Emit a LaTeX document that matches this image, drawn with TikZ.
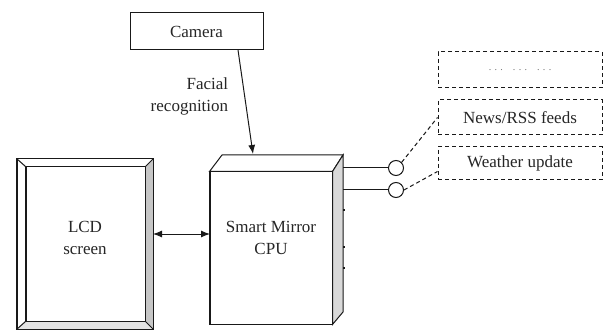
\documentclass[tikz,border=0pt]{standalone}
\usepackage{fontspec}
\setmainfont{Liberation Serif}
\usetikzlibrary{arrows.meta}
\begin{document}
\begin{tikzpicture}[x=1pt,y=-1pt,
  line width=1pt, draw=black!90,
  txt/.style={font=\fontsize{17}{22}\selectfont, text=black!85},
  solidbox/.style={draw, rectangle, inner sep=0pt},
  dashbox/.style={draw, dashed, dash pattern=on 4pt off 3pt, rectangle, inner sep=0pt, minimum width=164pt},
  port/.style={draw, circle, minimum size=15pt, inner sep=0pt},
  tip/.style={-{Latex[length=9pt,width=7pt]}},
  dtip/.style={{Latex[length=9pt,width=7pt]}-{Latex[length=9pt,width=7pt]}}]
\useasboundingbox (0,0) rectangle (610,331);
\fill[white] (0,0) rectangle (610,331);

% Camera
\node[solidbox, txt, minimum width=133pt, minimum height=37pt] (camera) at (196.5,31.5) {Camera};

% LCD screen
\node[solidbox, minimum width=136pt, minimum height=170pt] (lcd) at (85,244) {};
\node[solidbox, minimum width=119pt, minimum height=154pt] (lcdin) at (85.5,244) {};
\fill[gray!45] (lcdin.north east) -- (lcd.north east) -- (lcd.south east) -- (lcdin.south east) -- cycle;
\fill[gray!22] (lcdin.south west) -- (lcd.south west) -- (lcd.south east) -- (lcdin.south east) -- cycle;
\draw (lcd.north west) rectangle (lcd.south east);
\draw (lcdin.north west) rectangle (lcdin.south east);
\draw (lcd.north west) -- (lcdin.north west);
\draw (lcd.north east) -- (lcdin.north east);
\draw (lcd.south west) -- (lcdin.south west);
\draw (lcd.south east) -- (lcdin.south east);
\node[txt, align=center] (lcdtext) at (85,238) {LCD\\screen};

% CPU box
\node[solidbox, minimum width=122pt, minimum height=152pt] (cpu) at (271,248) {};
\coordinate (cpubtl) at (222,155);
\coordinate (cpubtr) at (343,155);
\coordinate (cpubbr) at (343,312);
\draw[fill=white] (cpu.north west) -- (cpubtl) -- (cpubtr) -- (cpu.north east) -- cycle;
\draw[fill=gray!30] (cpu.north east) -- (cpubtr) -- (cpubbr) -- (cpu.south east) -- cycle;
\draw (cpu.north west) rectangle (cpu.south east);
\node[txt, align=center] (cputext) at (271,238) {Smart Mirror\\CPU};
\foreach \yy in {210,247,268} \draw[line width=1.2pt] (343,\yy) -- (345,\yy);

% Camera -> CPU
\coordinate (camout) at (238,50);
\coordinate (cputop) at (253,154);
\draw[tip] (camout) -- (cputop);
\node[txt, align=right, anchor=east] (faclab) at (232,96) {Facial\\recognition};

% LCD <-> CPU
\coordinate (lcdr) at (153,234);
\coordinate (cpul) at (210,234);
\draw[dtip] (lcdr) -- (cpul);

% ports
\node[port] (p1) at (396,168) {};
\node[port] (p2) at (396,190) {};
\coordinate (s1) at (343,168);
\coordinate (s2) at (343,190);
\draw (s1) -- (p1.west);
\draw (s2) -- (p2.west);

% dashed boxes
\node[dashbox, minimum height=36pt, font=\fontsize{10}{10}\selectfont, text=black!55] (more) at (520,70) {.\,\,.\,\,.\quad.\,\,.\,\,.\quad.\,\,.\,\,.};
\node[dashbox, txt, minimum height=35pt] (news) at (520,117.5) {News/RSS feeds};
\node[dashbox, txt, minimum height=33pt] (weather) at (520,163.5) {Weather update};

\draw[dashed, dash pattern=on 4pt off 3pt] (p1.north east) -- (news.west);
\draw[dashed, dash pattern=on 4pt off 3pt] (p2.east) -- ([yshift=-8pt]weather.west);
\end{tikzpicture}
\end{document}
